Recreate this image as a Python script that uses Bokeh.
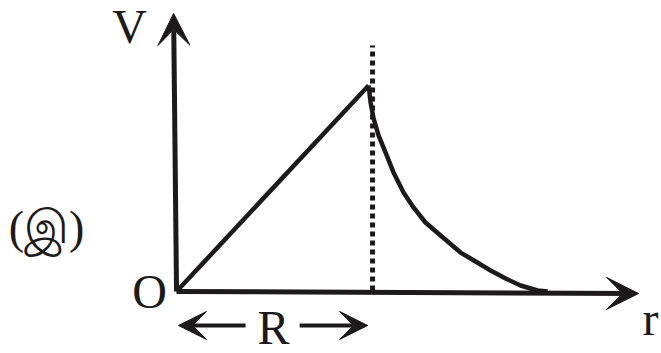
from bokeh.plotting import figure
from bokeh.models import Range1d, Arrow, VeeHead, Label
from bokeh.embed import file_html
from bokeh.resources import INLINE

# Data (r in units of R, V in units of peak V)
r_rise = [0.0, 0.98]
v_rise = [0.0, 1.0]
r_fall = [0.980, 0.990, 1.005, 1.031, 1.066, 1.107, 1.158, 1.209, 1.270, 1.347,
          1.449, 1.500, 1.602, 1.679, 1.755, 1.842, 1.893]
v_fall = [1.000, 0.917, 0.840, 0.757, 0.675, 0.578, 0.481, 0.408, 0.335, 0.272,
          0.189, 0.160, 0.102, 0.063, 0.029, 0.005, 0.0]
R_mark = 1.0
R_line_top = 1.194
labels = {"y": "V", "x": "r", "origin": "O", "R": "R", "tag": "(இ)"}

INK = "#1c1a1a"

p = figure(width=661, height=353, output_backend="svg", toolbar_location=None,
           x_range=Range1d(-0.898, 2.474), y_range=Range1d(-0.301, 1.4126),
           min_border=0, outline_line_color=None, background_fill_color="white")
p.axis.visible = False
p.grid.visible = False

# axes arrows
p.add_layout(Arrow(end=VeeHead(size=32, fill_color=INK, line_color=INK),
                   x_start=0, y_start=0, x_end=-0.015, y_end=1.35,
                   line_width=5, line_color=INK))
p.add_layout(Arrow(end=VeeHead(size=32, fill_color=INK, line_color=INK),
                   x_start=0, y_start=0, x_end=2.357, y_end=-0.01,
                   line_width=5, line_color=INK))

# curve
p.line(r_rise, v_rise, line_width=4.5, line_color=INK)
p.line(r_fall, v_fall, line_width=4.5, line_color=INK, line_join="round")

# dotted line at R
p.line([R_mark, R_mark], [0.005, R_line_top], line_width=5, line_color=INK,
       line_dash="5 4")

# R span arrows
p.add_layout(Arrow(end=VeeHead(size=28, fill_color=INK, line_color=INK),
                   x_start=0.352, y_start=-0.165, x_end=0.01, y_end=-0.165,
                   line_width=4, line_color=INK))
p.add_layout(Arrow(end=VeeHead(size=28, fill_color=INK, line_color=INK),
                   x_start=0.628, y_start=-0.165, x_end=0.975, y_end=-0.165,
                   line_width=4, line_color=INK))

font = "Liberation Serif"
def lab(x, y, t, size="48px", align="center", base="middle"):
    p.add_layout(Label(x=x, y=y, text=t, text_font=font, text_font_size=size,
                       text_color=INK, text_align=align, text_baseline=base))

lab(-0.240, 1.286, labels["y"])
lab(-0.138, 0.0, labels["origin"])
lab(2.418, -0.131, labels["x"])
lab(R_mark * 0.495, -0.175, labels["R"])
lab(-0.663, 0.311, labels["tag"], size="46px")

open("out.html", "w").write(file_html(p, INLINE))
